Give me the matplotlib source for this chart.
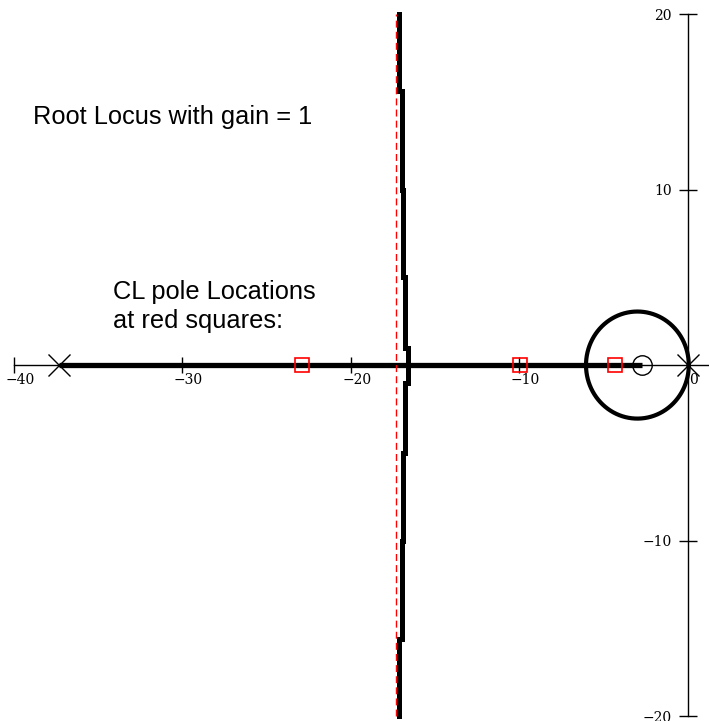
import numpy as np
import matplotlib.pyplot as plt
from matplotlib.transforms import ScaledTranslation

# open-loop poles / zeros and closed-loop poles (real axis)
ol_poles = [-37.3, 0.0]
ol_zeros = [-2.7]
cl_poles = [-22.9, -9.95, -4.35]

# real-axis locus segment
real_seg = [-37.3, -2.7]

# vertical branch (x, y), stepped
branch_y = [20, 15.6, 15.6, 10.0, 10.0, 5.0, 5.0, 1.0, 1.0, -1.0, -1.0, -5.0, -5.0, -10.0, -10.0, -15.6, -15.6, -20]
branch_x = [-17.12, -17.12, -17.0, -17.0, -16.9, -16.9, -16.8, -16.8, -16.6, -16.6, -16.8, -16.8, -16.9, -16.9, -16.95, -16.95, -17.12, -17.12]

# circular branch
circ_center = -3.0
circ_radius = 3.05

# asymptote
asym_x = -17.3

xticks = [-40, -30, -20, -10, 0]
xlabels = ['\u221240', '\u221230', '\u221220', '\u221210', '0']
yticks = [-20, -10, 10, 20]
ylabels = ['\u221220', '\u221210', '10', '20']

fig = plt.figure(figsize=(7.09, 7.21), dpi=100)
ax = fig.add_axes([0, 0, 1, 1])
ax.set_xlim(-40.83, 1.25)
ax.set_ylim(-20.28, 20.8)

for s in ['top', 'right']:
    ax.spines[s].set_visible(False)
ax.spines['left'].set_position(('data', 0))
ax.spines['bottom'].set_position(('data', 0))
ax.spines['left'].set_bounds(-20, 20)
ax.spines['bottom'].set_bounds(-40, 1.25)
ax.spines['left'].set_linewidth(1.0)
ax.spines['bottom'].set_linewidth(1.0)

ax.set_xticks(xticks)
ax.set_xticklabels(xlabels, family='DejaVu Serif', fontsize=10)
ax.set_yticks(yticks)
ax.set_yticklabels(ylabels, family='DejaVu Serif', fontsize=10)
ax.tick_params(axis='x', direction='inout', length=11, width=1, pad=0)
ax.tick_params(axis='y', direction='inout', length=13, width=1, pad=5)
shift = ScaledTranslation(6 / 100, 0, fig.dpi_scale_trans)
for lab in ax.get_xticklabels():
    lab.set_transform(lab.get_transform() + shift)

# asymptote
ax.plot([asym_x, asym_x], [-20, 20], color='red', lw=1.0, ls=(0, (5, 3)), zorder=4)

# locus
ax.plot(real_seg, [0, 0], color='black', lw=3.8, solid_capstyle='butt', zorder=3)
ax.plot(branch_x, branch_y, color='black', lw=3.6, solid_joinstyle='miter', zorder=3)
t = np.linspace(0, 2 * np.pi, 300)
ax.plot(circ_center + circ_radius * np.cos(t), circ_radius * np.sin(t), color='black', lw=3.0, zorder=3)

# markers
ax.plot(ol_poles, [0] * len(ol_poles), 'x', color='black', ms=16, mew=1.0, zorder=5)
ax.plot(ol_zeros, [0] * len(ol_zeros), 'o', mfc='none', mec='black', ms=14, mew=1.0, zorder=5)
ax.plot(cl_poles, [0] * len(cl_poles), 's', mfc='none', mec='red', ms=9.4, mew=1.2, zorder=6)

ax.text(-38.87, 13.73, 'Root Locus with gain = 1', fontsize=18.3, family='Liberation Sans', va='baseline')
ax.text(-34.12, 3.75, 'CL pole Locations', fontsize=18.3, family='Liberation Sans', va='baseline')
ax.text(-34.12, 2.1, 'at red squares:', fontsize=18.3, family='Liberation Sans', va='baseline')

fig.savefig('out.png', dpi=100)
